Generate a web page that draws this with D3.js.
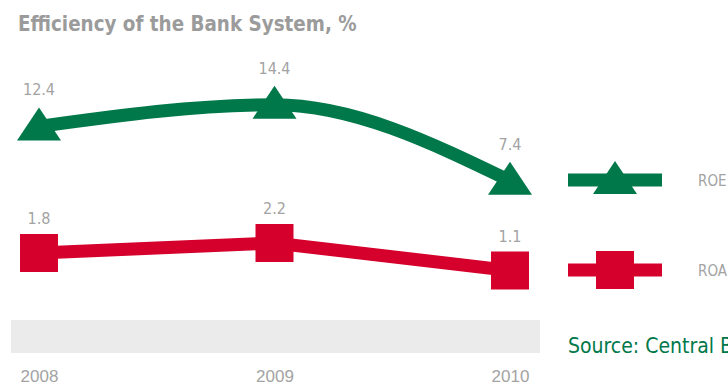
<!DOCTYPE html>
<html>
<head>
<meta charset="utf-8">
<script src="https://cdn.jsdelivr.net/npm/d3@7"></script>
<style>
  body { margin: 0; background: #fff; }
  svg { display: block; font-family: "Liberation Sans Narrow", "DejaVu Sans Condensed", sans-serif; }
</style>
</head>
<body>
<div id="chart"></div>
<script>
const years = ["2008", "2009", "2010"];
const roe = [12.4, 14.4, 7.4];
const roa = [1.8, 2.2, 1.1];
const seriesNames = ["ROE", "ROA"];
const title = "Efficiency of the Bank System, %";
const source = "Source: Central Bank";

const green = "#00784a";
const red = "#d5002c";
const grey = "#a3a3a3";

const width = 728;
const height = 387;

const svg = d3.select("#chart").append("svg")
    .attr("width", width)
    .attr("height", height);

let x = d3.scalePoint().domain(years).range([39, 510]);
// each series has its own vertical scale
let yRoe = d3.scaleLinear().domain([0, 20]).range([261, 44]);
let yRoa = d3.scaleLinear().domain([0, 3]).range([298, 223]);

svg.append("text")
    .attr("x", 18).attr("y", 31)
    .attr("font-size", 20.4)
    .attr("font-weight", "bold")
    .attr("fill", "#9b9b9b")
    .text(title);

// grey band above the year labels
svg.append("rect")
    .attr("x", 11).attr("y", 320)
    .attr("width", 529).attr("height", 33)
    .attr("fill", "#ebebeb");

const xAxis = d3.axisBottom(x).tickSize(0).tickPadding(0);
const xAxisGroup = svg.append("g")
    .attr("transform", "translate(0, 370)")
    .call(xAxis);
xAxisGroup.select(".domain").remove();
xAxisGroup.selectAll("text")
    .attr("font-family", null)
    .attr("font-size", 17)
    .attr("fill", grey);

const triangle = "M0,-19L22,14L-22,14Z";

const roeData = years.map((d, i) => ({year: d, value: roe[i]}));
const roaData = years.map((d, i) => ({year: d, value: roa[i]}));

// ROE
svg.append("path").datum(roeData)
    .attr("fill", "none")
    .attr("stroke", green)
    .attr("stroke-width", 13)
    .attr("d", d3.line()
        .curve(d3.curveMonotoneX)
        .x(d => x(d.year))
        .y(d => yRoe(d.value)));
svg.selectAll(".roeMark").data(roeData).enter().append("path")
    .attr("class", "roeMark")
    .attr("d", triangle)
    .attr("fill", green)
    .attr("transform", d => `translate(${x(d.year)}, ${yRoe(d.value)})`);
svg.selectAll(".roeLabel").data(roeData).enter().append("text")
    .attr("class", "roeLabel")
    .attr("x", d => x(d.year))
    .attr("y", d => yRoe(d.value) - 31)
    .attr("text-anchor", "middle")
    .attr("font-size", 16)
    .attr("fill", grey)
    .text(d => d.value.toFixed(1));

// ROA
svg.append("path").datum(roaData)
    .attr("fill", "none")
    .attr("stroke", red)
    .attr("stroke-width", 13)
    .attr("d", d3.line()
        .x(d => x(d.year))
        .y(d => yRoa(d.value)));
svg.selectAll(".roaMark").data(roaData).enter().append("rect")
    .attr("class", "roaMark")
    .attr("x", d => x(d.year) - 19)
    .attr("y", d => yRoa(d.value) - 19)
    .attr("width", 38).attr("height", 38)
    .attr("fill", red);
svg.selectAll(".roaLabel").data(roaData).enter().append("text")
    .attr("class", "roaLabel")
    .attr("x", d => x(d.year))
    .attr("y", d => yRoa(d.value) - 29)
    .attr("text-anchor", "middle")
    .attr("font-size", 16)
    .attr("fill", grey)
    .text(d => d.value.toFixed(1));

// legend
const legend = svg.append("g").attr("transform", "translate(568, 0)");
const legendY = [180, 270];
const legendColors = [green, red];
seriesNames.forEach((name, i) => {
    const g = legend.append("g").attr("transform", `translate(0, ${legendY[i]})`);
    g.append("rect")
        .attr("x", 0).attr("y", -6.5)
        .attr("width", 94).attr("height", 13)
        .attr("fill", legendColors[i]);
    if (i === 0) {
        g.append("path").attr("d", triangle)
            .attr("transform", "translate(47, 0)")
            .attr("fill", green);
    } else {
        g.append("rect")
            .attr("x", 28).attr("y", -19)
            .attr("width", 38).attr("height", 38)
            .attr("fill", red);
    }
    g.append("text")
        .attr("x", 130).attr("y", 6)
        .attr("font-size", 15)
        .attr("fill", grey)
        .text(name);
});

svg.append("text")
    .attr("x", 568).attr("y", 353)
    .attr("font-size", 21)
    .attr("fill", green)
    .text(source);
</script>
</body>
</html>
